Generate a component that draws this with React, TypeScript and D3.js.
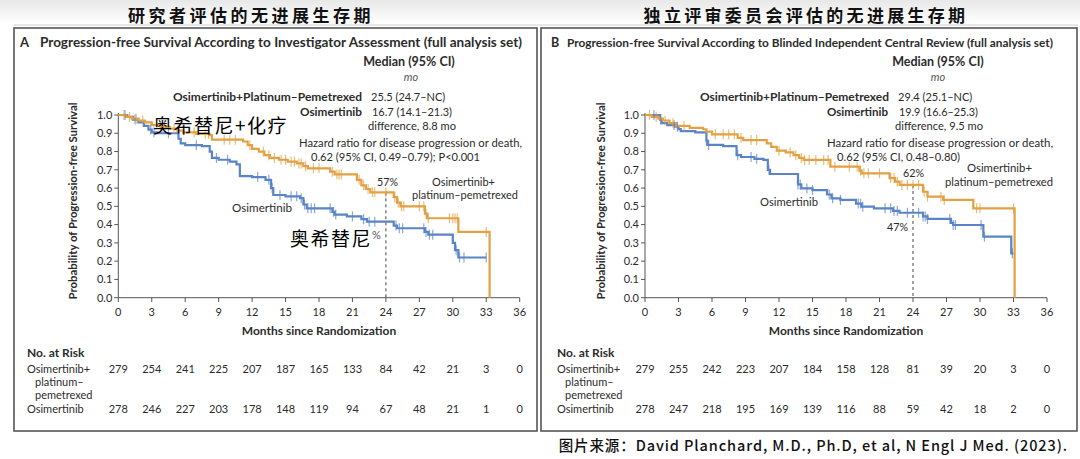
import React from 'react';
import * as d3 from 'd3';

// ---------- DATA ----------
const monthTicks = [0, 3, 6, 9, 12, 15, 18, 21, 24, 27, 30, 33, 36];
const probTicks = [0, 0.1, 0.2, 0.3, 0.4, 0.5, 0.6, 0.7, 0.8, 0.9, 1.0];

// Panel A (investigator assessment) step points: [month, survival]
const aCombo: [number, number][] = [
  [0, 1.0], [0.7, 0.99], [1.2, 0.98], [1.8, 0.97], [2.4, 0.96], [3.0, 0.945], [3.8, 0.935],
  [4.6, 0.925], [5.3, 0.915], [5.8, 0.905], [7.0, 0.897], [8.2, 0.89], [8.4, 0.865],
  [11.2, 0.855], [11.6, 0.835], [12.0, 0.815], [12.6, 0.8], [13.1, 0.78], [13.6, 0.765],
  [14.4, 0.755], [15.2, 0.745], [16.0, 0.735], [16.6, 0.72], [17.0, 0.708], [19.0, 0.69],
  [19.4, 0.675], [21.4, 0.645], [21.8, 0.615], [22.2, 0.595], [22.6, 0.577], [24.7, 0.55],
  [25.0, 0.52], [25.3, 0.5], [27.5, 0.46], [27.7, 0.435], [30.5, 0.36], [33.3, 0.0],
];
const aOsi: [number, number][] = [
  [0, 1.0], [0.8, 0.99], [1.3, 0.975], [1.8, 0.96], [2.3, 0.94], [2.7, 0.92], [3.0, 0.905],
  [3.5, 0.9], [5.4, 0.87], [5.6, 0.845], [6.0, 0.835], [7.5, 0.83], [8.2, 0.8], [8.4, 0.765],
  [9.0, 0.755], [10.0, 0.745], [10.6, 0.73], [10.9, 0.665], [12.0, 0.66], [13.2, 0.645],
  [13.7, 0.6], [13.9, 0.562], [15.0, 0.555], [16.3, 0.545], [16.6, 0.51], [16.9, 0.489],
  [19.2, 0.47], [19.4, 0.455], [20.5, 0.445], [21.8, 0.43], [22.3, 0.416], [24.7, 0.395],
  [25.0, 0.38], [27.5, 0.36], [27.8, 0.345], [30.0, 0.3], [30.2, 0.26], [30.5, 0.22], [33.0, 0.22],
];
const aComboCensor = [0.5, 1.0, 1.6, 2.2, 4.0, 5.0, 6.8, 7.8, 8.1, 9.5, 10.0, 10.5, 11.8, 13.0, 13.5, 14.0,
  14.6, 15.0, 15.5, 15.8, 16.2, 16.4, 16.8, 17.5, 18.0, 19.2, 19.6, 19.8, 20.0, 21.6, 22.0, 22.4, 22.8,
  23.0, 24.0, 24.8, 25.1, 25.4, 25.6, 27.0, 27.4, 27.6, 27.8, 29.7, 30.0, 30.2, 30.4, 33.0];
const aOsiCensor = [0.6, 1.5, 2.9, 3.2, 4.5, 7.0, 8.8, 9.8, 12.5, 13.5, 13.8, 14.5, 15.5, 16.0, 16.4, 16.7,
  17.0, 17.3, 17.6, 19.0, 19.3, 19.5, 21.0, 22.0, 22.5, 23.0, 24.9, 25.2, 25.5, 27.4, 27.6, 27.9, 28.2,
  30.3, 30.6, 31.0, 33.0];
const aRiskCombo = [279, 254, 241, 225, 207, 187, 165, 133, 84, 42, 21, 3, 0];
const aRiskOsi = [278, 246, 227, 203, 178, 148, 119, 94, 67, 48, 21, 1, 0];

// Panel B (blinded independent central review)
const bCombo: [number, number][] = [
  [0, 1.0], [0.6, 0.99], [1.2, 0.98], [1.6, 0.97], [2.2, 0.955], [2.8, 0.94], [4.0, 0.93],
  [5.2, 0.922], [5.5, 0.909], [6.0, 0.894], [8.3, 0.875], [8.8, 0.863], [10.9, 0.845],
  [11.3, 0.825], [11.8, 0.805], [12.6, 0.795], [13.3, 0.78], [13.8, 0.765], [14.2, 0.754],
  [16.6, 0.717], [19.2, 0.695], [19.4, 0.681], [21.9, 0.655], [22.4, 0.635], [22.8, 0.617],
  [24.9, 0.58], [25.3, 0.553], [26.7, 0.535], [29.4, 0.489], [33.1, 0.0],
];
const bOsi: [number, number][] = [
  [0, 1.0], [1.35, 0.975], [1.5, 0.955], [2.0, 0.945], [2.7, 0.936], [3.0, 0.923], [3.2, 0.912],
  [4.5, 0.905], [5.5, 0.86], [5.6, 0.836], [7.0, 0.83], [8.2, 0.78], [8.6, 0.77], [9.8, 0.76],
  [10.6, 0.754], [11.0, 0.7], [11.2, 0.677], [13.7, 0.62], [14.0, 0.598], [15.0, 0.589],
  [16.3, 0.565], [16.7, 0.544], [17.5, 0.535], [18.9, 0.515], [19.4, 0.498], [20.5, 0.489],
  [22.2, 0.475], [22.8, 0.465], [24.9, 0.445], [25.3, 0.431], [27.4, 0.41], [27.6, 0.398],
  [30.3, 0.334], [32.8, 0.243], [33.0, 0.243],
];
const bComboCensor = [0.4, 1.0, 1.8, 2.5, 3.5, 6.3, 7.0, 7.5, 8.0, 8.6, 9.5, 10.0, 12.0, 13.0, 13.5, 14.0,
  14.3, 14.7, 15.3, 16.0, 16.4, 17.0, 18.3, 19.0, 19.3, 19.6, 20.0, 21.0, 22.0, 22.3, 22.6, 23.0, 23.5,
  24.0, 24.5, 25.0, 25.3, 26.5, 26.8, 29.7, 30.0, 33.0];
const bOsiCensor = [0.8, 1.4, 2.6, 2.9, 5.5, 5.7, 8.3, 9.5, 10.0, 11.1, 13.7, 13.9, 14.5, 15.0, 16.5, 16.8,
  17.5, 19.1, 19.3, 19.5, 21.5, 22.0, 22.3, 22.6, 23.5, 24.5, 24.9, 25.1, 25.3, 27.3, 27.6, 27.8,
  30.1, 30.4, 32.9];
const bRiskCombo = [279, 255, 242, 223, 207, 184, 158, 128, 81, 39, 20, 3, 0];
const bRiskOsi = [278, 247, 218, 195, 169, 139, 116, 88, 59, 42, 18, 2, 0];

// ---------- STYLE ----------
const ORANGE = '#E2A142';
const BLUE = '#5A84C6';
const FONT = 'Lato, "Open Sans", sans-serif';
const CJK = '"Noto Sans CJK SC", sans-serif';
const TXT = '#2b2b2b';
const FS = 11;

function survAt(steps: [number, number][], t: number) {
  let v = steps[0][1];
  for (const [m, s] of steps) { if (m <= t) v = s; else break; }
  return v;
}

type PanelProps = {
  x0: number; x1: number;
  combo: [number, number][]; osi: [number, number][];
  comboCens: number[]; osiCens: number[];
  riskCombo: number[]; riskOsi: number[];
  tableX: number; ylabX: number;
};

const fit = { lengthAdjust: 'spacingAndGlyphs' as const };

function Panel(p: PanelProps) {
  const x = d3.scaleLinear().domain([0, 36]).range([p.x0, p.x1]);
  const y = d3.scaleLinear().domain([0, 1]).range([297.7, 115]);
  const line = d3.line<[number, number]>().x(d => x(d[0])).y(d => y(d[1])).curve(d3.curveStepAfter);
  const cens = (arr: number[], steps: [number, number][], color: string) =>
    arr.map((t, i) => {
      const cx = x(t), cy = y(survAt(steps, t));
      return <line key={i} x1={cx} x2={cx} y1={cy - 5} y2={cy + 5} stroke={color} strokeWidth={1.2} opacity={0.7} />;
    });
  const d24 = survAt(p.combo, 24);
  return (
    <g fontFamily={FONT}>
      <line x1={p.x0} x2={p.x1} y1={297.7} y2={297.7} stroke="#555" strokeWidth={1} />
      <line x1={p.x0} x2={p.x0} y1={297.7} y2={113} stroke="#555" strokeWidth={1} />
      {monthTicks.map(m => (
        <g key={m}>
          <line x1={x(m)} x2={x(m)} y1={297.7} y2={302} stroke="#555" />
          <text x={x(m)} y={316} textAnchor="middle" fontSize={FS} fill={TXT}>{m}</text>
        </g>
      ))}
      {probTicks.map(v => (
        <g key={v}>
          <line x1={p.x0 - 4} x2={p.x0} y1={y(v)} y2={y(v)} stroke="#555" />
          <text x={p.x0 - 6} y={y(v) + 3.8} textAnchor="end" fontSize={FS} fill={TXT}>{v.toFixed(1)}</text>
        </g>
      ))}
      <text transform={`translate(${p.ylabX},201) rotate(-90)`} textAnchor="middle" fontSize={12} fontWeight={700} fill={TXT}
        textLength={197} {...fit}>
        Probability of Progression-free Survival
      </text>
      <text x={(p.x0 + p.x1) / 2} y={335} textAnchor="middle" fontSize={12} fontWeight={700} fill={TXT}>
        Months since Randomization
      </text>
      <line x1={x(24)} x2={x(24)} y1={y(d24)} y2={297.7} stroke="#444" strokeDasharray="3,3" strokeWidth={1} />
      <path d={line(p.osi) || ''} fill="none" stroke={BLUE} strokeWidth={2.2} />
      <path d={line(p.combo) || ''} fill="none" stroke={ORANGE} strokeWidth={2.2} />
      {cens(p.osiCens, p.osi, BLUE)}
      {cens(p.comboCens, p.combo, ORANGE)}
      <text x={p.tableX} y={357} fontSize={12} fontWeight={700} fill={TXT}>No. at Risk</text>
      <text x={p.tableX} y={373} fontSize={FS} fill={TXT}>Osimertinib+</text>
      <text x={p.tableX + 8} y={386} fontSize={FS} fill={TXT}>platinum–</text>
      <text x={p.tableX + 8} y={399} fontSize={FS} fill={TXT}>pemetrexed</text>
      <text x={p.tableX} y={413} fontSize={FS} fill={TXT}>Osimertinib</text>
      {p.riskCombo.map((n, i) => (
        <text key={'c' + i} x={x(monthTicks[i])} y={373} textAnchor="middle" fontSize={FS} fill={TXT}>{n}</text>
      ))}
      {p.riskOsi.map((n, i) => (
        <text key={'o' + i} x={x(monthTicks[i])} y={413} textAnchor="middle" fontSize={FS} fill={TXT}>{n}</text>
      ))}
    </g>
  );
}

export default function App() {
  return (
    <svg width={1080} height={459} style={{ position: 'absolute', left: 0, top: 0, background: '#fff' }}>
      <defs>
        <linearGradient id="band" x1="0" y1="0" x2="0" y2="1">
          <stop offset="0" stopColor="#e8e8e8" />
          <stop offset="1" stopColor="#ffffff" />
        </linearGradient>
      </defs>
      <rect x={0} y={0} width={1080} height={24} fill="url(#band)" />
      <line x1={14} x2={1078} y1={25} y2={25} stroke="#d0d0d0" strokeWidth={1} />
      <text x={251} y={22} textAnchor="middle" fontSize={17} letterSpacing={3.5} fontFamily={CJK} fontWeight={700} fill="#111">研究者评估的无进展生存期</text>
      <text x={806} y={22} textAnchor="middle" fontSize={17} letterSpacing={3.3} fontFamily={CJK} fontWeight={700} fill="#111">独立评审委员会评估的无进展生存期</text>

      <rect x={14} y={28} width={523} height={403} fill="none" stroke="#555" strokeWidth={1.6} />
      <rect x={541} y={28} width={536} height={403} fill="none" stroke="#555" strokeWidth={1.6} />

      {/* Panel A */}
      <Panel x0={118.3} x1={519.7} combo={aCombo} osi={aOsi} comboCens={aComboCensor} osiCens={aOsiCensor}
        riskCombo={aRiskCombo} riskOsi={aRiskOsi} tableX={27} ylabX={77} />
      <g fontFamily={FONT} fill={TXT} fontSize={FS}>
        <text x={20} y={47} fontWeight={700} fontSize={13}>A</text>
        <text x={40} y={47} fontWeight={700} fontSize={12.5} textLength={482} {...fit}>Progression-free Survival According to Investigator Assessment (full analysis set)</text>
        <text x={409} y={66} textAnchor="middle" fontWeight={700} fontSize={12.5}>Median (95% CI)</text>
        <text x={411} y={81} textAnchor="middle" fontStyle="italic" fill="#555">mo</text>
        <text x={362} y={101} textAnchor="end" fontWeight={700} fontSize={12}>Osimertinib+Platinum–Pemetrexed</text>
        <text x={371} y={101}>25.5 (24.7–NC)</text>
        <text x={362} y={116} textAnchor="end" fontWeight={700} fontSize={12} textLength={62} {...fit}>Osimertinib</text>
        <text x={372} y={116} textLength={80} {...fit}>16.7 (14.1–21.3)</text>
        <text x={368} y={130} textLength={88} {...fit}>difference, 8.8 mo</text>
        <text x={299} y={147} textLength={223} {...fit}>Hazard ratio for disease progression or death,</text>
        <text x={311} y={161} textLength={169} {...fit}>0.62 (95% CI, 0.49–0.79); P&lt;0.001</text>
        <text x={377} y={186} textLength={21} {...fit}>57%</text>
        <text x={432} y={186} textLength={63} {...fit}>Osimertinib+</text>
        <text x={412} y={199} textLength={106} {...fit}>platinum–pemetrexed</text>
        <text x={232} y={212} textLength={60} {...fit}>Osimertinib</text>
        <text x={372} y={239} fill="#555">%</text>
      </g>
      <text x={153} y={133} fontSize={19} letterSpacing={1.5} fontFamily={CJK} fill="#000">奥希替尼+化疗</text>
      <text x={290} y={246} fontSize={19} letterSpacing={1.5} fontFamily={CJK} fill="#000">奥希替尼</text>

      {/* Panel B */}
      <Panel x0={645} x1={1047} combo={bCombo} osi={bOsi} comboCens={bComboCensor} osiCens={bOsiCensor}
        riskCombo={bRiskCombo} riskOsi={bRiskOsi} tableX={557} ylabX={605} />
      <g fontFamily={FONT} fill={TXT} fontSize={FS}>
        <text x={551} y={47} fontWeight={700} fontSize={12.5}>B</text>
        <text x={567} y={47} fontWeight={700} fontSize={12} textLength={486} {...fit}>Progression-free Survival According to Blinded Independent Central Review (full analysis set)</text>
        <text x={938} y={66} textAnchor="middle" fontWeight={700} fontSize={12.5}>Median (95% CI)</text>
        <text x={938} y={81} textAnchor="middle" fontStyle="italic" fill="#555">mo</text>
        <text x={889} y={101} textAnchor="end" fontWeight={700} fontSize={12}>Osimertinib+Platinum–Pemetrexed</text>
        <text x={898} y={101}>29.4 (25.1–NC)</text>
        <text x={888} y={116} textAnchor="end" fontWeight={700} fontSize={12} textLength={61} {...fit}>Osimertinib</text>
        <text x={899} y={116} textLength={79} {...fit}>19.9 (16.6–25.3)</text>
        <text x={895} y={130} textLength={88} {...fit}>difference, 9.5 mo</text>
        <text x={827} y={147} textLength={226} {...fit}>Hazard ratio for disease progression or death,</text>
        <text x={837} y={161} textLength={123} {...fit}>0.62 (95% CI, 0.48–0.80)</text>
        <text x={903} y={177} textLength={21} {...fit}>62%</text>
        <text x={887} y={231} textLength={21} {...fit}>47%</text>
        <text x={967} y={172} textLength={65} {...fit}>Osimertinib+</text>
        <text x={945} y={186} textLength={108} {...fit}>platinum–pemetrexed</text>
        <text x={760} y={206} textLength={58} {...fit}>Osimertinib</text>
      </g>

      <text x={1068} y={451} textAnchor="end" fontSize={14.5} letterSpacing={0.9} fontWeight={500}
        fontFamily={CJK} fill="#111">图片来源：David Planchard, M.D., Ph.D, et al, N Engl J Med. (2023).</text>
    </svg>
  );
}
